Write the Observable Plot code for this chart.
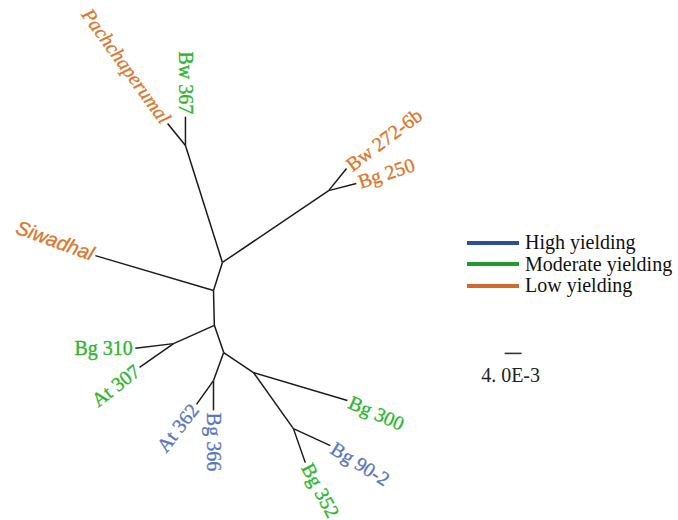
<!DOCTYPE html>
<html>
<head>
<meta charset="utf-8">
<script src="https://cdn.jsdelivr.net/npm/d3@7"></script>
<script src="https://cdn.jsdelivr.net/npm/@observablehq/plot@0.6"></script>
<style>
  body { margin: 0; background: #fff; }
  #wrap { position: relative; width: 678px; height: 520px; }
  .legend { position: absolute; left: 467px; top: 232px; color: #111; }
  .row { display: flex; align-items: center; height: 21.5px; font-family: 'Liberation Serif', 'Times New Roman', Times, serif; font-size: 20px; }
  .sw { width: 52px; height: 4px; margin-right: 6px; }
</style>
</head>
<body>
<div id="wrap"></div>
<script>
// Tree nodes: id, position (distance units, 1 unit = 1E-3), parent
const nodeId  = ["R","N2","N1","Bw 367","Pachchaperumal","N3","Bw 272-6b","Bg 250","Siwadhal","N5","N6","Bg 310","At 307","N7","N8","At 362","Bg 366","N9","Bg 300","N10","Bg 90-2","Bg 352"];
const nodeX   = [0, 2.1, -6.6, -6.6, -10.8, 27.1, 31.3, 33.6, -27.8, 0.2, -9.4, -18.4, -17.4, 2.4, 0, -4.0, 0, 9.4, 31.5, 18.8, 27.5, 21.6];
const nodeY   = [0, 6.6, 34.1, 40.9, 39.3, 23.5, 28.7, 25.2, 8.2, -8.2, -12.5, -13.6, -18.1, -14.6, -21.2, -26.8, -28.2, -19.3, -25.9, -32.5, -36.5, -40.5];
const parent  = [null,"R","N2","N1","N1","N2","N3","N3","R","R","N5","N6","N6","N5","N7","N8","N8","N7","N9","N9","N10","N10"];

// Leaves: group and label orientation
const leafName  = ["Pachchaperumal","Bw 367","Bw 272-6b","Bg 250","Siwadhal","Bg 310","At 307","At 362","Bg 366","Bg 300","Bg 90-2","Bg 352"];
const leafGroup = ["Low","Moderate","Low","Low","Low","Moderate","Moderate","High","High","Moderate","High","Moderate"];
const leafAngle = [54, 90, -37, -18, 20, 0, -38, -52, 90, 24, 32, 62];
const leafSide  = ["end","end","start","start","end","end","end","end","start","start","start","start"];

const groups      = ["High","Moderate","Low"];
const groupLabels = ["High yielding","Moderate yielding","Low yielding"];
const legendColors = ["#2b4f9e","#1f9a2c","#d0692a"];
const labelColors  = ["#5a78bd","#2fb52f","#d9782f"];

const scaleBarLength = 4; // units of 1E-3
const scaleBarLabel = "4. 0E-3";

// build tables
const nodes = nodeId.map((id, i) => ({id, x: nodeX[i], y: nodeY[i], parent: parent[i]}));
const byId = new Map(nodes.map(d => [d.id, d]));
const edges = nodes.filter(d => d.parent).map(d => ({x1: byId.get(d.parent).x, y1: byId.get(d.parent).y, x2: d.x, y2: d.y}));

const K = 4.25; // px per unit
const gap = 2.5 / K;
const leaves = leafName.map((name, i) => {
  const n = byId.get(name);
  const a = leafAngle[i] * Math.PI / 180;
  const s = leafSide[i] === "start" ? 1 : -1;
  return {
    name, group: leafGroup[i], rotate: leafAngle[i], side: leafSide[i],
    x: n.x + s * gap * Math.cos(a), y: n.y - s * gap * Math.sin(a),
    italic: name === "Pachchaperumal" || name === "Siwadhal"
  };
});
const color = g => labelColors[groups.indexOf(g)];

const textMarks = [];
for (const side of ["start","end"]) {
  for (const kind of ["plain","serifItalic","sansItalic"]) {
    const data = leaves.filter(d => d.side === side &&
      (kind === "plain" ? !d.italic : kind === "serifItalic" ? d.name === "Pachchaperumal" : d.name === "Siwadhal"));
    if (!data.length) continue;
    textMarks.push(Plot.text(data, {
      x: "x", y: "y", text: "name", rotate: "rotate",
      fill: d => color(d.group), stroke: d => color(d.group), strokeWidth: 0.35,
      textAnchor: side,
      fontSize: 20,
      fontFamily: kind === "sansItalic" ? "Liberation Sans" : "Liberation Serif",
      fontStyle: kind === "plain" ? "normal" : "italic"
    }));
  }
}

const sbX = 68.5, sbY = -14.8;
const chart = Plot.plot({
  width: 678, height: 520,
  margin: 0,
  x: {domain: [-213 / K, 465 / K], axis: null},
  y: {domain: [-230 / K, 290 / K], axis: null},
  style: {background: "#fff"},
  marks: [
    Plot.link(edges, {x1: "x1", y1: "y1", x2: "x2", y2: "y2", stroke: "#1a1a1a", strokeWidth: 1.5}),
    ...textMarks,
    Plot.link([{x1: sbX, x2: sbX + scaleBarLength, y: sbY}], {x1: "x1", x2: "x2", y1: "y", y2: "y", stroke: "#333", strokeWidth: 1.6}),
    Plot.text([{x: sbX + scaleBarLength / 2 - 0.6, y: sbY - 5.2, t: scaleBarLabel}], {x: "x", y: "y", text: "t", fontSize: 20, fontFamily: "Liberation Serif", fill: "#222"})
  ]
});
const wrap = document.getElementById("wrap");
wrap.appendChild(chart);

const legend = document.createElement("div");
legend.className = "legend";
groups.forEach((g, i) => {
  const row = document.createElement("div");
  row.className = "row";
  row.innerHTML = `<span class="sw" style="background:${legendColors[i]}"></span><span>${groupLabels[i]}</span>`;
  legend.appendChild(row);
});
wrap.appendChild(legend);
</script>
</body>
</html>
